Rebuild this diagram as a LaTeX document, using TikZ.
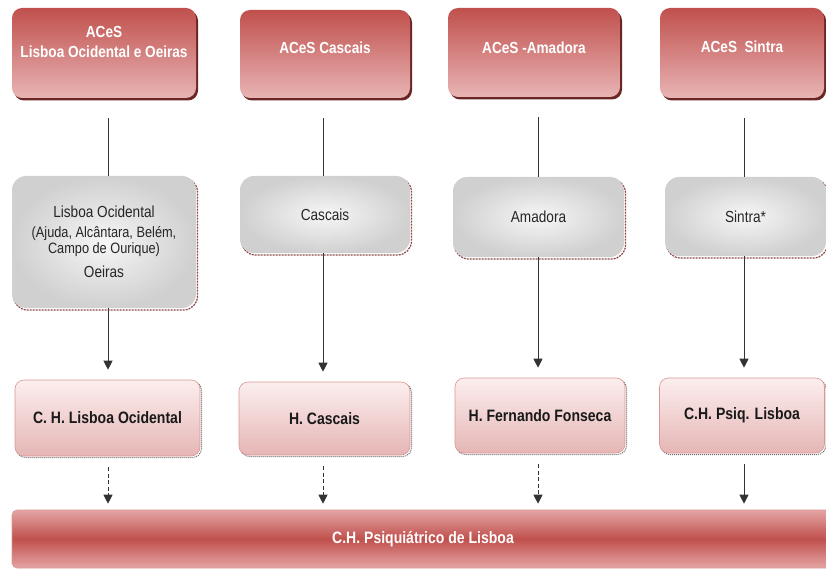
\documentclass[tikz,border=0pt]{standalone}
\usepackage{fontspec}
\setmainfont{Liberation Sans}[FakeStretch=0.85]
\usetikzlibrary{arrows.meta,shadows,calc}
\definecolor{topdark}{RGB}{192,80,77}
\definecolor{toplight}{RGB}{232,180,180}
\definecolor{topshadow}{RGB}{105,38,36}
\definecolor{grayin}{RGB}{246,246,246}
\definecolor{grayout}{RGB}{208,208,208}
\definecolor{midshadow}{RGB}{140,70,70}
\definecolor{hosptop}{RGB}{252,238,238}
\definecolor{hospbot}{RGB}{229,182,181}
\definecolor{hospdraw}{RGB}{217,150,148}
\definecolor{barlight}{RGB}{228,165,164}
\definecolor{bardark}{RGB}{192,80,77}
\begin{document}
\begin{tikzpicture}[x=1pt,y=-1pt,
  font=\fontsize{16}{18}\selectfont,
  box/.style={inner sep=0pt, align=center},
  topbox/.style={box, rounded corners=10pt, top color=topdark, bottom color=toplight,
    drop shadow={shadow xshift=2pt, shadow yshift=-2.5pt, fill=topshadow, opacity=1}},
  toptext/.style={text=white, font=\fontsize{16}{20}\selectfont\bfseries, align=center},
  midbox/.style={box, rounded corners=14pt, inner color=grayin, outer color=grayout,
    text=black!85,
    general shadow={shadow xshift=1.5pt, shadow yshift=-2pt, draw=midshadow,
      dash pattern=on 2pt off 1pt, line width=1.2pt}},
  hospbox/.style={box, rounded corners=9pt, top color=hosptop, bottom color=hospbot,
    draw=hospdraw, line width=0.6pt, font=\fontsize{16.5}{18}\selectfont\bfseries, text=black!90,
    general shadow={shadow xshift=1.5pt, shadow yshift=-1.5pt, draw=black!60,
      dash pattern=on 1pt off 1pt, line width=1pt}},
  barbox/.style={box, rounded corners=5pt, top color=barlight, bottom color=barlight,
    middle color=bardark, draw=hospdraw, line width=0.6pt,
    text=white, font=\fontsize{16.5}{18}\selectfont\bfseries},
  conn/.style={draw=black!80, line width=0.9pt},
  arr/.style={conn, -{Triangle[length=9pt,width=9pt]}},
  darr/.style={arr, dash pattern=on 4pt off 2.5pt}]
\useasboundingbox (0,0) rectangle (826,569);

% column coordinates
\coordinate (c1) at (108,0);
\coordinate (c2) at (323,0);
\coordinate (c3) at (538,0);
\coordinate (c4) at (744,0);

% top boxes
\node[topbox, minimum width=184pt, minimum height=90pt] (t1) at (104,53) {};
\node[topbox, minimum width=170pt, minimum height=88pt] (t2) at (325,54) {};
\node[topbox, minimum width=172pt, minimum height=89pt] (t3) at (534,52.5) {};
\node[topbox, minimum width=164pt, minimum height=90pt] (t4) at (742,53) {};
\node[toptext] (t1x) at ([yshift=11pt]t1.center) {ACeS\\Lisboa Ocidental e Oeiras};
\node[toptext] (t2x) at ([yshift=6pt]t2.center) {ACeS Cascais};
\node[toptext] (t3x) at ([yshift=5pt]t3.center) {ACeS -Amadora};
\node[toptext] (t4x) at ([yshift=6pt]t4.center) {ACeS\ \ Sintra};

% middle boxes
\node[midbox, minimum width=184pt, minimum height=132pt] (m1) at (104,242)
  {Lisboa Ocidental\\[2pt]
   {\fontsize{15}{16}\selectfont (Ajuda, Alcântara, Belém,}\\[-2pt]
   {\fontsize{15}{16}\selectfont Campo de Ourique)}\\[6pt]
   Oeiras};
\node[midbox, minimum width=170pt, minimum height=77pt] (m2) at (325,214.5) {Cascais};
\node[midbox, minimum width=171pt, minimum height=80pt] (m3) at (538.5,217) {Amadora};
\node[midbox, minimum width=161pt, minimum height=79pt] (m4) at (745.5,216.5) {Sintra*};

% hospital boxes
\node[hospbox, minimum width=185pt, minimum height=76pt] (h1) at (107.5,418) {C. H. Lisboa Ocidental};
\node[hospbox, minimum width=171pt, minimum height=73pt] (h2) at (324.5,418.5) {H. Cascais};
\node[hospbox, minimum width=170pt, minimum height=75pt] (h3) at (540,415.5) {H. Fernando Fonseca};
\node[hospbox, minimum width=165pt, minimum height=75pt] (h4) at (742,415.5) {C.H. Psiq. Lisboa};

% bottom bar
\node[barbox, minimum width=822pt, minimum height=58pt] (bar) at (423,539) {C.H. Psiquiátrico de Lisboa};

% connectors top -> middle -> hospital
\foreach \i in {1,2,3,4}{
  \draw[conn] ([yshift=-20pt]t\i.south -| c\i) -- (m\i.north -| c\i);
  \draw[arr] (m\i.south -| c\i) -- ([yshift=10pt]h\i.north -| c\i);
}
% hospital -> bar
\draw[darr] ([yshift=-11pt]h1.south -| c1) -- ([yshift=6pt]bar.north -| c1);
\draw[darr] ([yshift=-11pt]h2.south -| c2) -- ([yshift=6pt]bar.north -| c2);
\draw[darr] ([yshift=-11pt]h3.south -| c3) -- ([yshift=6pt]bar.north -| c3);
\draw[arr] ([yshift=-11pt]h4.south -| c4) -- ([yshift=6pt]bar.north -| c4);
\end{tikzpicture}
\end{document}
